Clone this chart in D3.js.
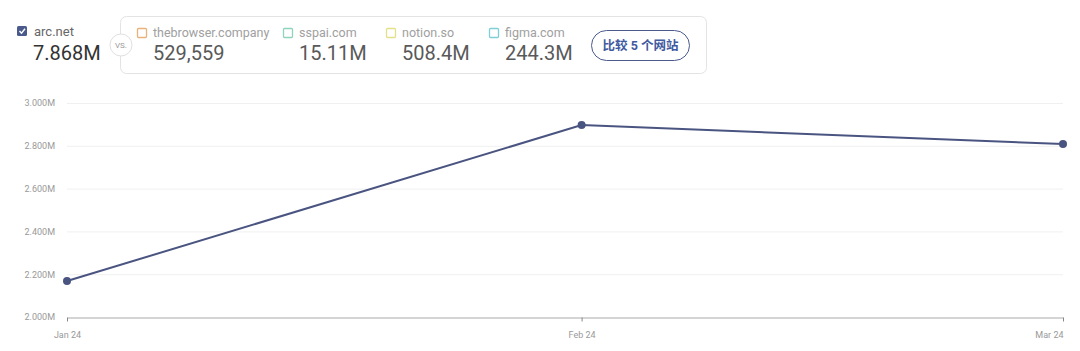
<!DOCTYPE html>
<html><head><meta charset="utf-8">
<script src="https://cdn.jsdelivr.net/npm/d3@7"></script>
<style>
body{margin:0;background:#fff;font-family:Roboto,"Noto Sans CJK SC",sans-serif;}
</style></head>
<body><svg id="c" width="1080" height="351"></svg>
<script>
const monthDates = ["2024-01-01","2024-02-01","2024-03-01"];
const monthLabels = ["Jan 24","Feb 24","Mar 24"];
const visits = [2168000, 2897000, 2808000];
const yTicks = [2000000,2200000,2400000,2600000,2800000,3000000];
const mainSite = "arc.net";
const mainTotal = "7.868M";
const compSites = ["thebrowser.company","sspai.com","notion.so","figma.com"];
const compTotals = ["529,559","15.11M","508.4M","244.3M"];
const compColors = ["#e8b27a","#8fd3bb","#e3e08a","#7fcfd6"];
const buttonLabel = "比较 5 个网站";

const svg = d3.select("#c");
const lineColor = "#4a5480";

// header
svg.append("rect").attr("x",17).attr("y",26).attr("width",10).attr("height",10).attr("rx",1.5).attr("fill","#4a5a8c");
svg.append("path").attr("d","M19.5 31 L21.5 33.2 L25 28.8").attr("stroke","#fff").attr("stroke-width",1.4).attr("fill","none");
svg.append("text").attr("x",34).attr("y",35.5).attr("font-size",13).attr("fill","#666").text(mainSite);
svg.append("text").attr("x",33).attr("y",60).attr("font-size",20).attr("fill","#333").text(mainTotal);

svg.append("rect").attr("x",120.5).attr("y",16.5).attr("width",586).attr("height",57).attr("rx",6).attr("fill","#fff").attr("stroke","#e3e3e3");
svg.append("circle").attr("cx",121).attr("cy",45).attr("r",11).attr("fill","#fff").attr("stroke","#e0e0e0");
svg.append("text").attr("x",121).attr("y",48).attr("text-anchor","middle").attr("font-size",8).attr("fill","#999").text("VS.");

const compX = [137,283,386,489];
compSites.forEach((s,i)=>{
  svg.append("rect").attr("x",compX[i]+0.5).attr("y",28.5).attr("width",9).attr("height",9).attr("rx",1).attr("fill","none").attr("stroke",compColors[i]).attr("stroke-width",1.3);
  svg.append("text").attr("x",compX[i]+16).attr("y",37).attr("font-size",12.5).attr("fill","#a0a0a0").text(s);
  svg.append("text").attr("x",compX[i]+16).attr("y",60).attr("font-size",20).attr("fill","#595959").text(compTotals[i]);
});
svg.append("rect").attr("x",591.5).attr("y",30.5).attr("width",98).attr("height",30).attr("rx",15).attr("fill","#fff").attr("stroke","#4a5a8c");
svg.append("text").attr("x",640.5).attr("y",50).attr("text-anchor","middle").attr("font-size",12.5).attr("font-weight","bold").attr("fill","#3f5aa0").text(buttonLabel);

// chart
const parse = d3.utcParse("%Y-%m-%d");
const dates = monthDates.map(parse);
const x = d3.scaleUtc().domain(d3.extent(dates)).range([67,1063]);
const y = d3.scaleLinear().domain([2000000,3000000]).range([317,103]);
const fmt = d => (d/1e6).toFixed(3)+"M";

svg.append("g").selectAll("line").data(yTicks.slice(1)).join("line")
  .attr("x1",67).attr("x2",1063).attr("y1",d=>y(d)+0.5).attr("y2",d=>y(d)+0.5)
  .attr("stroke","#f0f0f0");

const ya = svg.append("g").attr("transform","translate(67,0)")
  .call(d3.axisLeft(y).tickValues(yTicks).tickFormat(fmt).tickSize(0).tickPadding(12));
ya.select(".domain").remove();
ya.selectAll("text").attr("font-size",9).attr("fill","#999").attr("font-family","Roboto,sans-serif");

const xa = svg.append("g").attr("transform","translate(0,317.5)")
  .call(d3.axisBottom(x).tickValues(dates).tickFormat((d,i)=>monthLabels[i]).tickSize(4).tickPadding(10).tickSizeOuter(0));
xa.select(".domain").attr("stroke","#aaa");
xa.selectAll(".tick line").attr("stroke","#888");
xa.selectAll("text").attr("font-size",9).attr("fill","#999").attr("font-family","Roboto,sans-serif")
  .attr("text-anchor",(d,i)=> i===dates.length-1 ? "end" : "middle");

const pts = dates.map((d,i)=>({d,v:visits[i]}));
svg.append("path").datum(pts)
  .attr("d",d3.line().x(p=>x(p.d)).y(p=>y(p.v)))
  .attr("fill","none").attr("stroke",lineColor).attr("stroke-width",2);
svg.append("g").selectAll("circle").data(pts).join("circle")
  .attr("cx",p=>x(p.d)).attr("cy",p=>y(p.v)).attr("r",4).attr("fill",lineColor);
</script></body></html>
